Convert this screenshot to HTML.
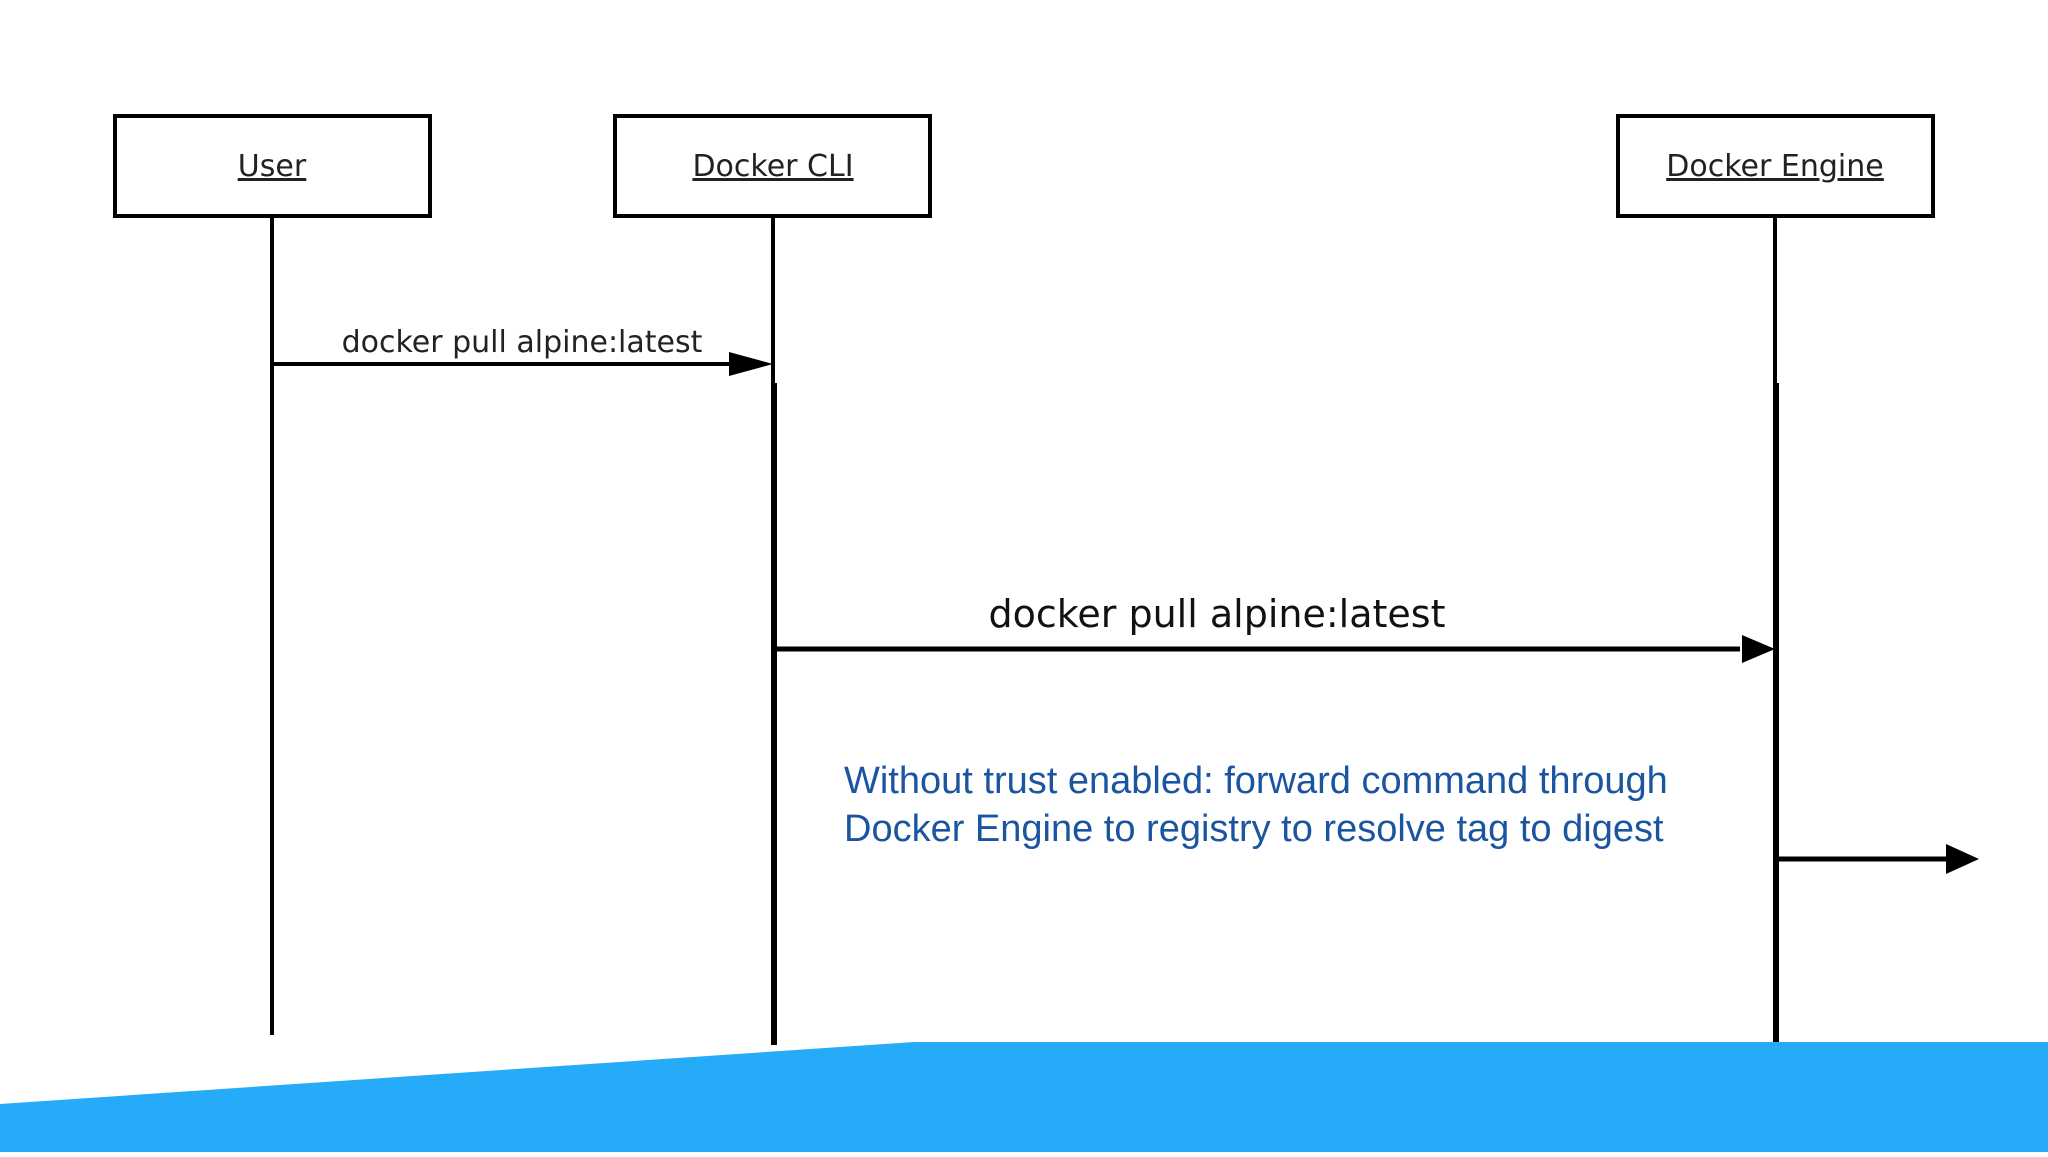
<!DOCTYPE html>
<html><head><meta charset="utf-8"><style>
html,body{margin:0;padding:0;background:#fff;}
body{width:2048px;height:1152px;overflow:hidden;position:relative;}
</style></head><body>
<svg width="2048" height="1152" viewBox="0 0 2048 1152" xmlns="http://www.w3.org/2000/svg">
<defs>
<marker id="a" markerWidth="10" markerHeight="10" refX="9" refY="5" orient="auto" markerUnits="userSpaceOnUse" viewBox="0 0 10 10">
</marker>
</defs>
<g fill="#fff" stroke="#000" stroke-width="4">
<rect x="115" y="116" width="315" height="100"/>
<rect x="615" y="116" width="315" height="100"/>
<rect x="1618" y="116" width="315" height="100"/>
</g>
<g font-family="'DejaVu Sans',sans-serif" font-size="30" text-anchor="middle" fill="#222" text-decoration="underline">
<text x="272" y="176" text-decoration="underline">User</text>
<text x="773" y="176" text-decoration="underline">Docker CLI</text>
<text x="1775" y="176" text-decoration="underline">Docker Engine</text>
</g>
<g stroke="#000" stroke-width="4">
<line x1="272" y1="216" x2="272" y2="1035"/>
<line x1="773" y1="216" x2="773" y2="383"/>
<line x1="1775" y1="216" x2="1775" y2="383"/>
</g>
<g stroke="#000" stroke-width="6">
<line x1="774" y1="383" x2="774" y2="1045"/>
<line x1="1776" y1="383" x2="1776" y2="1045"/>
</g>
<line x1="272" y1="364" x2="735" y2="364" stroke="#000" stroke-width="4"/>
<polygon points="729,352 773,364 729,376" fill="#000"/>
<line x1="776" y1="649" x2="1740" y2="649" stroke="#000" stroke-width="5"/>
<polygon points="1742,635 1775,649 1742,663" fill="#000"/>
<line x1="1779" y1="859" x2="1950" y2="859" stroke="#000" stroke-width="5"/>
<polygon points="1946,844 1979,859 1946,874" fill="#000"/>
<text x="522" y="352" font-family="'DejaVu Sans',sans-serif" font-size="30" text-anchor="middle" fill="#222">docker pull alpine:latest</text>
<text x="1217" y="627" font-family="'DejaVu Sans',sans-serif" font-size="38" text-anchor="middle" fill="#111">docker pull alpine:latest</text>
<g font-family="'Liberation Sans',sans-serif" font-size="38" fill="#1b55a0">
<text x="844" y="793">Without trust enabled: forward command through</text>
<text x="844" y="841">Docker Engine to registry to resolve tag to digest</text>
</g>
<polygon points="0,1104 914,1042 2048,1042 2048,1152 0,1152" fill="#26abf9"/>
</svg>
</body></html>
